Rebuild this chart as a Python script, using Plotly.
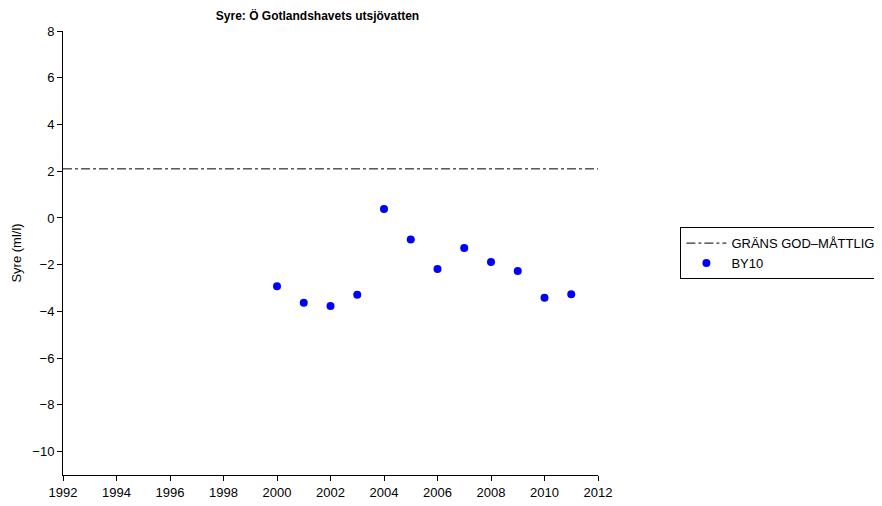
import plotly.graph_objects as go

years = [2000, 2001, 2002, 2003, 2004, 2005, 2006, 2007, 2008, 2009, 2010, 2011]
by10 = [-2.92, -3.63, -3.77, -3.29, 0.38, -0.92, -2.19, -1.29, -1.88, -2.27, -3.42, -3.26]
limit_x = [1992, 2012]
limit_y = [2.1, 2.1]
x_ticks = list(range(1992, 2013, 2))
y_ticks = list(range(-10, 9, 2))

FONT = "Liberation Sans, Arial, Helvetica, sans-serif"

# page body has an 8px margin; figure is sized to fill the window exactly
W, H = 874, 498
OFF = 8
plot_l, plot_r = 63.3 - OFF, 597.7 - OFF
plot_t, plot_b = 30.7 - OFF, 475 - OFF

fig = go.Figure()
fig.add_trace(go.Scatter(
    x=limit_x, y=limit_y, mode="lines", name="GRÄNS GOD–MÅTTLIG",
    line=dict(color="black", width=1, dash="dashdot"),
))
fig.add_trace(go.Scatter(
    x=years, y=by10, mode="markers", name="BY10",
    marker=dict(color="#0000ff", size=8),
))

pw = plot_r - plot_l
ph = plot_b - plot_t
fig.update_layout(
    width=W, height=H,
    paper_bgcolor="white", plot_bgcolor="white",
    margin=dict(l=plot_l, r=W - plot_r, t=plot_t, b=H - plot_b, autoexpand=False),
    font=dict(family=FONT, size=13, color="black"),
    title=dict(text="<b>Syre: Ö Gotlandshavets utsjövatten</b>", x=(317.5 - OFF) / W, xanchor="center",
               y=1 - (15.5 - OFF) / H, yanchor="middle", font=dict(size=12)),
    showlegend=True,
    legend=dict(x=(680 - OFF - plot_l) / pw, xanchor="left",
                y=(plot_b - (253 - OFF)) / ph, yanchor="middle",
                bordercolor="black", borderwidth=1, bgcolor="white",
                font=dict(size=13), tracegroupgap=0, itemwidth=40),
)
fig.update_xaxes(range=[1992, 2012], tickvals=x_ticks, ticks="outside", ticklen=5,
                 tickcolor="black", showline=True, linecolor="black", linewidth=1,
                 showgrid=False, zeroline=False, tickfont=dict(size=13))
fig.update_yaxes(range=[-11, 8], tickvals=y_ticks,
                 ticktext=[str(v).replace("-", "−") for v in y_ticks],
                 ticks="outside", ticklen=5,
                 tickcolor="black", showline=True, linecolor="black", linewidth=1,
                 showgrid=False, zeroline=False, tickfont=dict(size=13),
                 title=dict(text="Syre (ml/l)", font=dict(size=13), standoff=7))

fig.write_html("out.html")
